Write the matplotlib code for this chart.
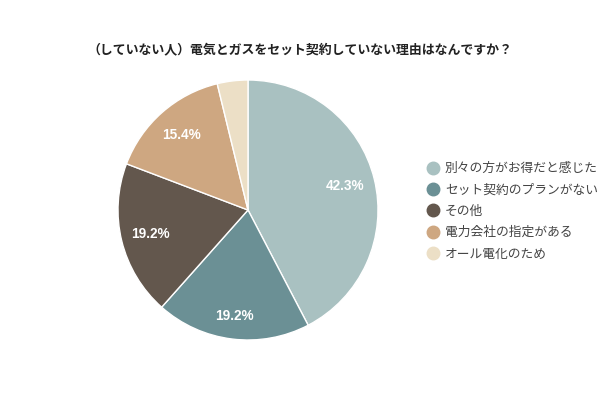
import matplotlib
matplotlib.use("Agg")
import matplotlib.pyplot as plt
from matplotlib.lines import Line2D

plt.rcParams['font.family'] = ['Noto Sans CJK JP', 'DejaVu Sans']

title = "（していない人）電気とガスをセット契約していない理由はなんですか？"
labels = ["別々の方がお得だと感じた", "セット契約のプランがない", "その他",
          "電力会社の指定がある", "オール電化のため"]
values = [42.3, 19.2, 19.2, 15.4, 3.8]
colors = ["#a9c1c1", "#6b9095", "#63574d", "#cea781", "#ecdfc6"]

fig = plt.figure(figsize=(6, 4), dpi=100)
ax = fig.add_axes([118 / 600, 60 / 400, 260 / 600, 260 / 400])

def fmt(p):
    return f"{p:.1f}%" if p > 5 else ""

wedges, texts, autotexts = ax.pie(
    values, colors=colors, startangle=90, counterclock=False,
    autopct=fmt, pctdistance=0.77, radius=1,
    wedgeprops=dict(edgecolor="white", linewidth=1),
    textprops=dict(color="white", fontsize=9.8, fontweight="bold",
                   family=['Liberation Sans', 'DejaVu Sans']))
# bottom label sits a bit further out in the original
x, y = autotexts[1].get_position()
autotexts[1].set_position((x * 1.07, y * 1.07))

ax.set_xlim(-1, 1)
ax.set_ylim(-1, 1)
ax.set_aspect("equal")
ax.axis("off")

fig.text(0.5, 1 - 50 / 400, title, ha="center", va="center",
         fontsize=9.3, fontweight="bold", color="#222222")

handles = [Line2D([0], [0], marker="o", linestyle="", markersize=9,
                  markerfacecolor=c, markeredgecolor=c) for c in colors]
fig.legend(handles, labels, loc="upper left",
           bbox_to_anchor=(418 / 600, 1 - 157 / 400), frameon=False,
           fontsize=9.2, handletextpad=0.1, labelspacing=0.65,
           handlelength=1.6, labelcolor="#444444", borderaxespad=0)

fig.savefig("out.png", dpi=100)
